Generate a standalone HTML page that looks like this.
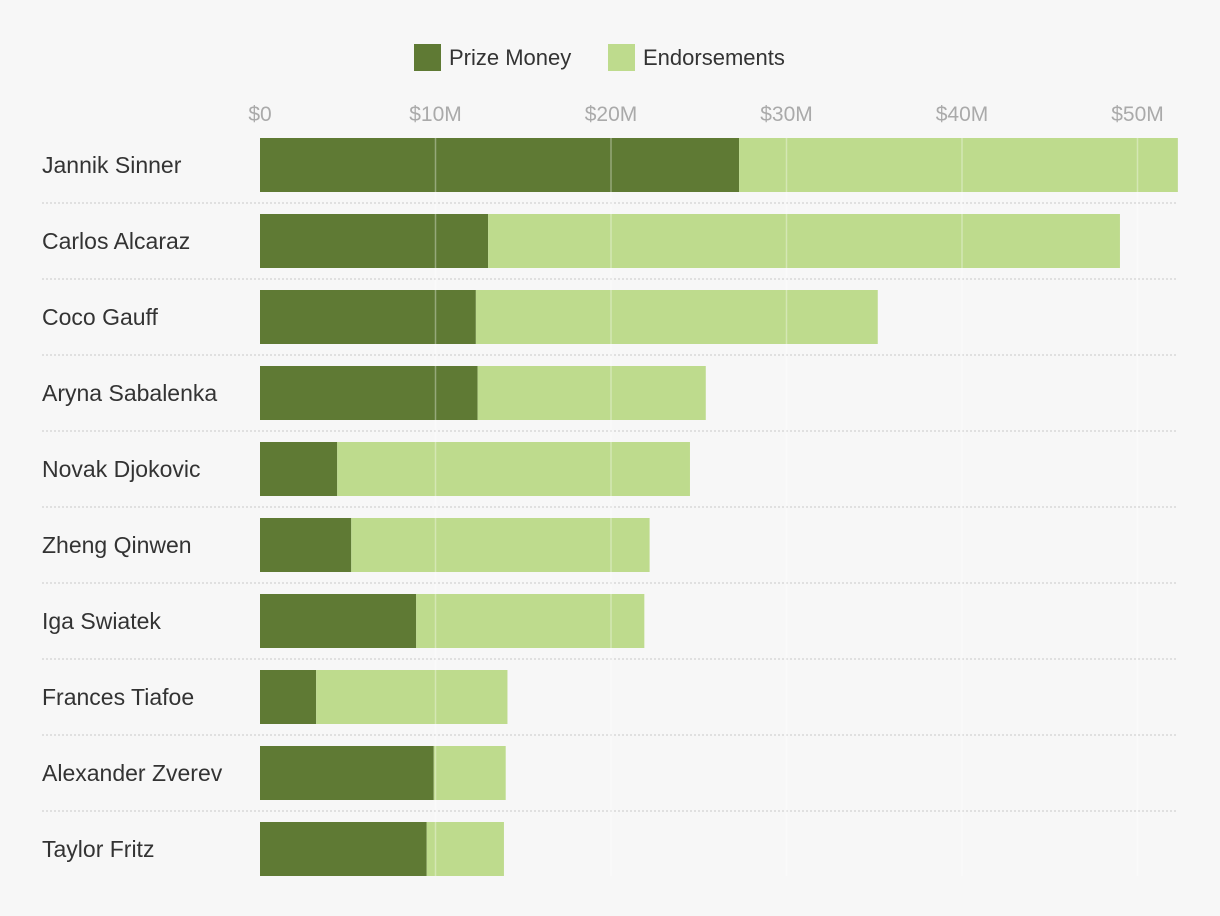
<!DOCTYPE html>
<html><head><meta charset="utf-8">
<style>
html,body{margin:0;padding:0;background:#f7f7f7;}
svg{display:block;font-family:"Liberation Sans",sans-serif;}
</style></head>
<body>
<svg id="chart" width="1220" height="916" viewBox="0 0 1220 916">
  <rect width="1220" height="916" fill="#f7f7f7"/>
  <g>
    <g>
      <rect x="414" y="44" width="27" height="27" fill="#5f7a34"/>
      <text x="449" y="65" font-size="22" fill="#333">Prize Money</text>
    </g>
    <g>
      <rect x="608" y="44" width="27" height="27" fill="#bedb8d"/>
      <text x="643" y="65" font-size="22" fill="#333">Endorsements</text>
    </g>
  </g>
  <g id="ticks"></g>
  <g id="rows"></g>
  <g id="grid"></g>
</svg>
<script>
const players = ["Jannik Sinner","Carlos Alcaraz","Coco Gauff","Aryna Sabalenka","Novak Djokovic","Zheng Qinwen","Iga Swiatek","Frances Tiafoe","Alexander Zverev","Taylor Fritz"];
const prizeMoney = [27.3,13.0,12.3,12.4,4.4,5.2,8.9,3.2,9.9,9.5];
const endorsements = [25.0,36.0,22.9,13.0,20.1,17.0,13.0,10.9,4.1,4.4];
const tickValues = [0,10,20,30,40,50];
const tickLabels = ["$0","$10M","$20M","$30M","$40M","$50M"];

const NS="http://www.w3.org/2000/svg";
const x0=260, pxPer=17.55, top0=138, pitch=76, barH=54;
const xs=v=>x0+v*pxPer;
function mk(tag,attrs,parent){const e=document.createElementNS(NS,tag);for(const k in attrs)e.setAttribute(k,attrs[k]);parent.appendChild(e);return e;}
const ticksG=document.getElementById('ticks'), rowsG=document.getElementById('rows'), gridG=document.getElementById('grid');
const bottom=top0+pitch*(players.length-1)+barH;
tickValues.forEach((v,i)=>{
  const t=mk('text',{x:xs(v),y:121,'font-size':21,fill:'#aaa','text-anchor':'middle'},ticksG);
  t.textContent=tickLabels[i];
  
  
  if(v>0){
    const l=mk('line',{x1:xs(v),x2:xs(v),y1:top0,y2:bottom,stroke:'rgba(255,255,255,0.35)','stroke-width':1.5},gridG);
    
    
  }
});
players.forEach((p,i)=>{
  const y=top0+i*pitch;
  const g=mk('g',{},rowsG);
  
  
  const lab=mk('text',{x:42,y:y+barH/2+8,'font-size':23,fill:'#333'},g);
  lab.textContent=p;
  
  
  const b1=mk('rect',{x:xs(0),y:y,width:xs(prizeMoney[i])-xs(0),height:barH,fill:'#5f7a34'},g);
  
  
  const b2=mk('rect',{x:xs(prizeMoney[i]),y:y,width:xs(prizeMoney[i]+endorsements[i])-xs(prizeMoney[i]),height:barH,fill:'#bedb8d'},g);
  
  
  if(i<players.length-1){
    const s=mk('line',{x1:42,x2:1178,y1:y+barH+11,y2:y+barH+11,stroke:'#c8c8c8','stroke-width':1,'stroke-dasharray':'2,2'},g);
    
    
  }
});
</script>
</body></html>
